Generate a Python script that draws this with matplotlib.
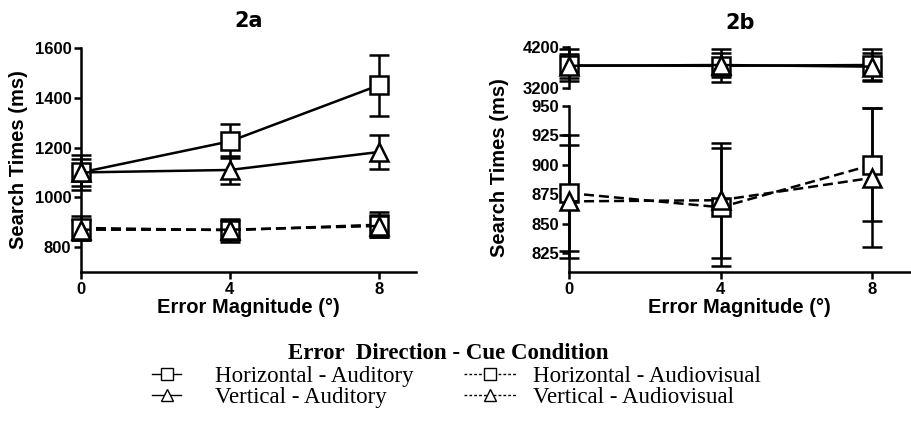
import matplotlib
matplotlib.use('Agg')
import matplotlib.pyplot as plt
from matplotlib.lines import Line2D

# Error magnitude (deg)
x = [0, 4, 8]

# Panel 2a means and errors
a_h_aud = [1100, 1225, 1450]
a_h_aud_err = [72, 68, 122]
a_v_aud = [1100, 1110, 1182]
a_v_aud_err = [56, 55, 68]
a_h_av = [877, 868, 890]
a_h_av_err = [47, 46, 50]
a_v_av = [870, 870, 885]
a_v_av_err = [40, 40, 45]

# Panel 2b means and errors (auditory in top segment, audiovisual in bottom)
b_h_aud = [3750, 3740, 3760]
b_h_aud_err = [390, 400, 400]
b_v_aud = [3740, 3760, 3720]
b_v_aud_err = [300, 300, 330]
b_h_av = [876, 864, 900]
b_h_av_err = [49, 50, 48]
b_v_av = [869, 870, 889]
b_v_av_err = [48, 49, 59]

labels_aud = ['Horizontal - Auditory', 'Vertical - Auditory']
labels_av = ['Horizontal - Audiovisual', 'Vertical - Audiovisual']

sans = ['Liberation Sans', 'DejaVu Sans']
serif = ['Liberation Serif', 'DejaVu Serif']
plt.rcParams['font.family'] = sans
plt.rcParams['font.weight'] = 'bold'

fig = plt.figure(figsize=(9.12, 4.41), dpi=100)
ax_a = fig.add_axes([0.0888, 0.3832, 0.3673, 0.508])
ax_bt = fig.add_axes([0.624, 0.8005, 0.374, 0.093])
ax_bb = fig.add_axes([0.624, 0.3832, 0.374, 0.3764])


def draw(ax, y, err, marker, ls):
    ax.errorbar(x, y, yerr=err, color='black', lw=1.8, ls=ls,
                marker=marker, ms=13, mfc='white', mec='black', mew=1.8,
                capsize=7, capthick=2, elinewidth=1.8, clip_on=False, zorder=3)


dash = (0, (4, 2))

# Panel 2a
draw(ax_a, a_h_aud, a_h_aud_err, 's', '-')
draw(ax_a, a_v_aud, a_v_aud_err, '^', '-')
draw(ax_a, a_h_av, a_h_av_err, 's', dash)
draw(ax_a, a_v_av, a_v_av_err, '^', dash)
ax_a.set_xlim(0, 9)
ax_a.set_ylim(700, 1600)
ax_a.set_yticks([800, 1000, 1200, 1400, 1600])
ax_a.set_xticks(x)
ax_a.set_title('2a', fontsize=15, fontweight='bold', pad=15, family='DejaVu Sans')
ax_a.set_ylabel('Search Times (ms)', fontsize=14.5, fontweight='bold', labelpad=5)
ax_a.set_xlabel('Error Magnitude (°)', fontsize=14.5, fontweight='bold', labelpad=1)

# Panel 2b top segment
draw(ax_bt, b_h_aud, b_h_aud_err, 's', '-')
draw(ax_bt, b_v_aud, b_v_aud_err, '^', '-')
ax_bt.set_xlim(0, 9)
ax_bt.set_ylim(3200, 4200)
ax_bt.set_yticks([3200, 4200])
ax_bt.set_xticks([])
ax_bt.spines['bottom'].set_visible(False)

# Panel 2b bottom segment
draw(ax_bb, b_h_av, b_h_av_err, 's', dash)
draw(ax_bb, b_v_av, b_v_av_err, '^', dash)
ax_bb.set_xlim(0, 9)
ax_bb.set_ylim(809, 950)
ax_bb.set_yticks([825, 850, 875, 900, 925, 950])
ax_bb.set_xticks(x)
ax_bb.set_xlabel('Error Magnitude (°)', fontsize=14.5, fontweight='bold', labelpad=1)
ax_bt.set_title('2b', fontsize=15, fontweight='bold', pad=13, family='DejaVu Sans')
fig.text(0.548, 0.62, 'Search Times (ms)', rotation=90, fontsize=14.5,
         fontweight='bold', ha='center', va='center')

for ax in (ax_a, ax_bt, ax_bb):
    ax.spines['top'].set_visible(False)
    ax.spines['right'].set_visible(False)
    ax.spines['left'].set_linewidth(1.8)
    ax.spines['bottom'].set_linewidth(1.8)
    ax.tick_params(width=1.8, length=5, labelsize=12, pad=2)
    for t in ax.get_xticklabels() + ax.get_yticklabels():
        t.set_fontweight('bold')

# Legend (two columns with different handle styles)
fig.text(0.491, 0.198, 'Error  Direction - Cue Condition', family=serif,
         fontsize=16.5, fontweight='bold', ha='center', va='center')
h_aud = [Line2D([], [], color='black', lw=1, ls='-', marker=m, ms=8.5,
                mfc='white', mew=1) for m in ('s', '^')]
h_av = [Line2D([], [], color='black', lw=1, ls=(0, (2, 1.5)), marker=m, ms=8.5,
               mfc='white', mew=1) for m in ('s', '^')]
prop = {'family': serif, 'size': 16.5, 'weight': 'normal'}
leg1 = fig.legend(h_aud, labels_aud, loc='center left',
                  bbox_to_anchor=(152 / 912, 1 - 387 / 441), frameon=False,
                  prop=prop, handlelength=1.27, handletextpad=1.5,
                  labelspacing=0.0, borderpad=0, borderaxespad=0)
leg2 = fig.legend(h_av, labels_av, loc='center left',
                  bbox_to_anchor=(464 / 912, 1 - 387 / 441), frameon=False,
                  prop=prop, handlelength=2.27, handletextpad=0.74,
                  labelspacing=0.0, borderpad=0, borderaxespad=0)

fig.savefig('out.png', dpi=100)
